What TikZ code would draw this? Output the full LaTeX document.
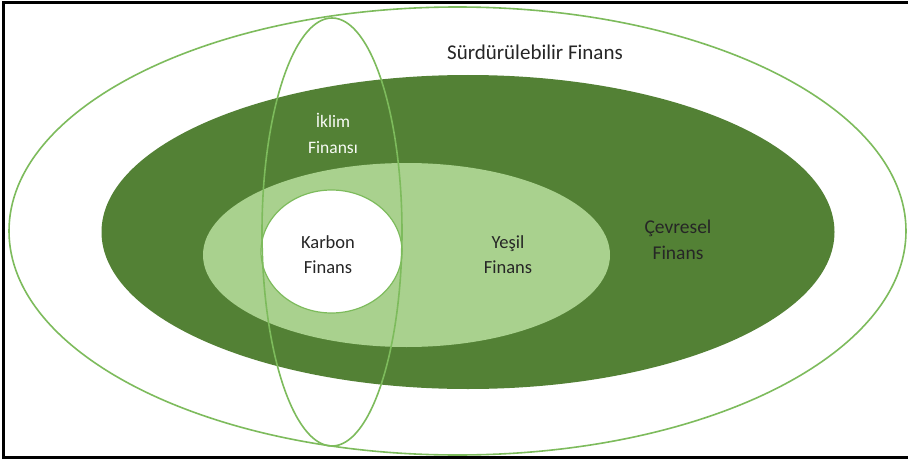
\documentclass[tikz,border=0pt]{standalone}
\usepackage{fontspec}
\setmainfont{Carlito}
\definecolor{darkg}{HTML}{538135}
\definecolor{lightg}{HTML}{A9D18E}
\definecolor{lineg}{HTML}{7DBB5C}
\definecolor{txt}{HTML}{262626}
\tikzset{
  lbl/.style={align=center, font=\fontsize{18.5}{25}\selectfont, text=txt, inner sep=0pt},
  ring/.style={draw=lineg, line width=1.6pt},
}
\begin{document}
\begin{tikzpicture}[x=1pt,y=-1pt]
\useasboundingbox (0,0) rectangle (908,460);
\fill[white] (0,0) rectangle (908,460);
% outer ellipse
\draw[ring] (457.5,231) ellipse [x radius=448.5pt, y radius=224pt];
% dark ellipse
\fill[darkg] (468,232) ellipse [x radius=366.5pt, y radius=157pt];
% light ellipse
\fill[lightg] (406.5,255) ellipse [x radius=203.5pt, y radius=92pt];
% white ellipse
\filldraw[fill=white, draw=lineg, line width=1.2pt] (331.5,251.5) ellipse [x radius=70.5pt, y radius=61.5pt];
% vertical ellipse
\draw[ring] (332,232) ellipse [x radius=70pt, y radius=214pt];
% frame
\draw[black, line width=3pt] (908,2.5) -- (3.5,2.5) -- (3.5,457.5) -- (908,457.5);
% labels
\node[lbl, font=\fontsize{21}{25}\selectfont] (surd) at (535,52) {Sürdürülebilir Finans};
\node[lbl, text=white!92!lightg, font=\fontsize{17.5}{26}\selectfont] (iklim) at (333,133) {İklim\\Finansı};
\node[lbl] (karbon) at (328,255) {Karbon\\Finans};
\node[lbl] (yesil) at (508,255) {Yeşil\\Finans};
\node[lbl, font=\fontsize{19.5}{26}\selectfont] (cevre) at (678,240) {Çevresel\\Finans};
\end{tikzpicture}
\end{document}
